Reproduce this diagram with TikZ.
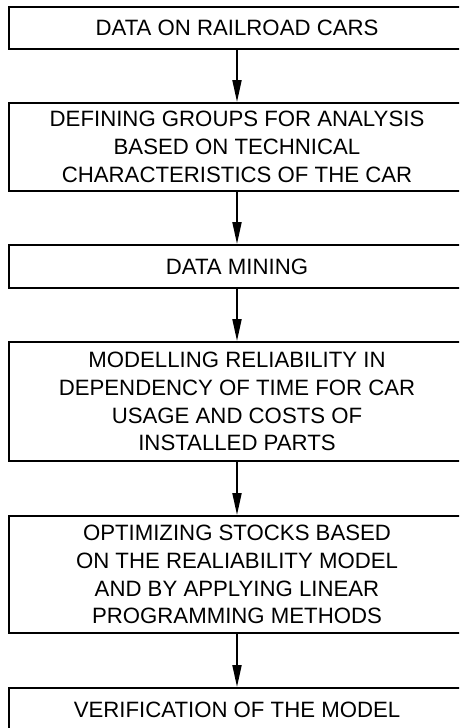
\documentclass[tikz,border=0pt]{standalone}
\usepackage{fontspec}
\setmainfont{Liberation Sans}
\usetikzlibrary{arrows.meta}

\tikzset{
  stepbox/.style={draw=black, line width=1.9pt, fill=white,
    minimum width=456pt, inner sep=0pt, align=center,
    font=\fontsize{22.2}{27.8}\selectfont},
  flowarrow/.style={draw=black, line width=1.9pt,
    -{Triangle[length=22pt,width=9pt]}}
}

\begin{document}
\begin{tikzpicture}[x=1pt,y=-1pt]
  \clip (0,0) rectangle (459,728);
  \useasboundingbox (0,0) rectangle (459,728);
  \fill[white] (0,0) rectangle (459,728);

  % process steps, top to bottom
  \node[stepbox, minimum height=42pt]  (data)   at (237,28)    {DATA ON RAILROAD CARS};
  \node[stepbox, minimum height=88pt]  (groups) at (237,147)   {DEFINING GROUPS FOR ANALYSIS\\BASED ON TECHNICAL\\CHARACTERISTICS OF THE CAR};
  \node[stepbox, minimum height=43pt]  (mining) at (237,266.5) {DATA MINING};
  \node[stepbox, minimum height=119pt] (model)  at (237,401.5) {MODELLING RELIABILITY IN\\DEPENDENCY OF TIME FOR CAR\\USAGE AND COSTS OF\\INSTALLED PARTS};
  \node[stepbox, minimum height=117pt] (stocks) at (237,574.5) {OPTIMIZING STOCKS BASED\\ON THE REALIABILITY MODEL\\AND BY APPLYING LINEAR\\PROGRAMMING METHODS};
  \node[stepbox, minimum height=43pt]  (verify) at (237,709.5) {VERIFICATION OF THE MODEL};

  % connectors
  \draw[flowarrow] (data.south)   -- (groups.north);
  \draw[flowarrow] (groups.south) -- (mining.north);
  \draw[flowarrow] (mining.south) -- (model.north);
  \draw[flowarrow] (model.south)  -- (stocks.north);
  \draw[flowarrow] (stocks.south) -- (verify.north);
\end{tikzpicture}
\end{document}
